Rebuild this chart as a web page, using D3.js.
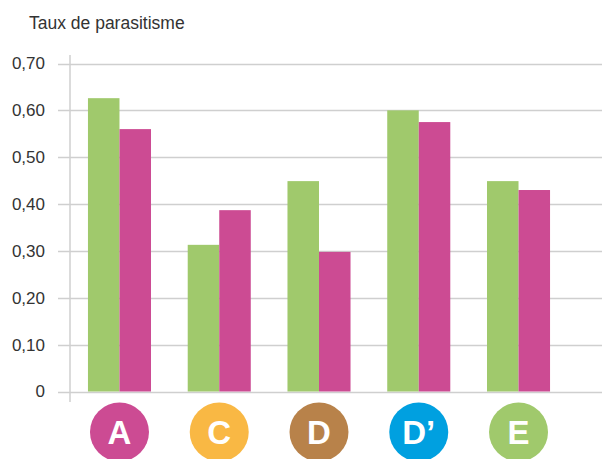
<!DOCTYPE html>
<html><head><meta charset="utf-8">
<script src="https://cdn.jsdelivr.net/npm/d3@7"></script>
<style>html,body{margin:0;padding:0;background:#fff;}svg{display:block;}</style>
</head><body>
<script>
const categories = ["A", "C", "D", "D’", "E"];
const greenValues = [0.626, 0.313, 0.449, 0.600, 0.449];
const pinkValues = [0.560, 0.387, 0.298, 0.575, 0.430];
const tickValues = [0, 0.1, 0.2, 0.3, 0.4, 0.5, 0.6, 0.7];
const tickLabels = ["0", "0,10", "0,20", "0,30", "0,40", "0,50", "0,60", "0,70"];
const badgeColors = ["#cc4b93", "#f9b844", "#b8824a", "#00a0e0", "#a0c96c"];
const seriesColors = ["#a0c96c", "#cc4b93"];
const title = "Taux de parasitisme";

const W = 602, H = 459;
const svg = d3.select("body").append("svg").attr("width", W).attr("height", H);
const font = "'Liberation Sans', Arial, sans-serif";

const y = d3.scaleLinear().domain([0, 0.7]).range([391.5, 63.5]);
const x = d3.scaleBand().domain(categories).range([70, 568]).paddingInner(0.368).paddingOuter(0.18);
const xs = d3.scaleBand().domain([0, 1]).range([0, x.bandwidth()]);

// gridlines
svg.append("g").selectAll("line").data(tickValues).join("line")
  .attr("x1", 58).attr("x2", W)
  .attr("y1", d => Math.round(y(d)) + 0.5).attr("y2", d => Math.round(y(d)) + 0.5)
  .attr("stroke", "#cfcfcf").attr("stroke-width", 1.5);

// y axis line
svg.append("line").attr("x1", 70).attr("x2", 70).attr("y1", 55).attr("y2", 402)
  .attr("stroke", "#cfcfcf").attr("stroke-width", 1.5);

// tick labels
svg.append("g").selectAll("text").data(tickValues).join("text")
  .attr("x", 45).attr("y", d => y(d)).attr("dy", "0.35em")
  .attr("text-anchor", "end").attr("font-family", font).attr("font-size", 17)
  .attr("fill", "#333").text((d, i) => tickLabels[i]);

// title
svg.append("text").attr("x", 29).attr("y", 29).attr("font-family", font)
  .attr("font-size", 17.5).attr("fill", "#333").text(title);

// bars
const groups = svg.append("g").selectAll("g").data(categories).join("g")
  .attr("transform", d => `translate(${x(d)},0)`);
groups.each(function(c, i) {
  const vals = [greenValues[i], pinkValues[i]];
  d3.select(this).selectAll("rect").data(vals).join("rect")
    .attr("x", (v, j) => xs(j)).attr("width", xs.bandwidth())
    .attr("y", v => y(v)).attr("height", v => y(0) - y(v))
    .attr("fill", (v, j) => seriesColors[j]);
});

// badges
const badges = svg.append("g").selectAll("g").data(categories).join("g")
  .attr("transform", d => `translate(${x(d) + x.bandwidth() / 2},432)`);
badges.append("circle").attr("r", 29.5).attr("fill", (d, i) => badgeColors[i]);
badges.append("text").attr("text-anchor", "middle").attr("dy", "0.36em")
  .attr("font-family", font).attr("font-weight", "bold").attr("font-size", 33)
  .attr("fill", "#fff").text(d => d);
</script>
</body></html>
